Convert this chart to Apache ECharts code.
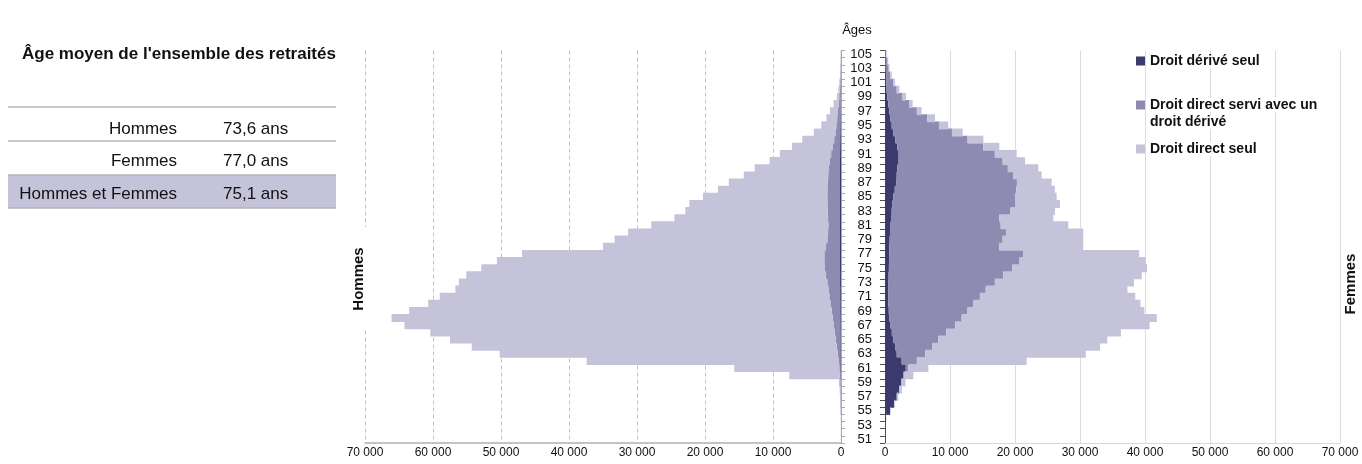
<!DOCTYPE html>
<html><head><meta charset="utf-8">
<script src="https://cdn.jsdelivr.net/npm/echarts@6/dist/echarts.min.js"></script>
<style>html,body{margin:0;padding:0;background:#fff}#c{width:1362px;height:464px}</style>
</head><body><div id="c"></div>
<script>
// Ages 51 -> 105 (bottom -> top)
const ages = ['51','52','53','54','55','56','57','58','59','60','61','62','63','64','65','66','67','68','69','70','71','72','73','74','75','76','77','78','79','80','81','82','83','84','85','86','87','88','89','90','91','92','93','94','95','96','97','98','99','100','101','102','103','104','105'];

const hommesDeriveSeul = [5,5,5,5,20,30,40,50,60,80,100,100,100,100,100,100,110,110,120,120,130,130,140,140,150,150,150,150,150,150,150,150,150,150,150,150,150,150,150,150,140,130,120,110,100,90,80,70,60,50,40,30,20,10,10];
const hommesDirectAvecDerive = [0,0,0,5,10,20,20,30,40,70,150,270,390,540,680,800,920,1090,1250,1430,1580,1720,1870,2060,2200,2300,2300,2050,1850,1750,1710,1750,1810,1850,1860,1850,1810,1730,1610,1470,1310,1120,880,710,580,470,370,280,200,130,80,50,30,20,10];
const hommesDirectSeul = [5,5,5,10,50,70,90,120,200,7450,15450,37030,49710,53660,56720,59500,63170,64900,62130,59150,57290,54850,54190,52900,50550,48150,44450,32800,31300,29400,26040,22600,20940,20300,18290,16100,14540,12420,10940,8880,7550,5950,4700,3180,2220,1590,1170,750,340,220,130,70,50,30,20];

const femmesDeriveSeul = [60,80,100,150,770,1380,1790,2150,2460,2820,3200,2560,1800,1550,1300,1050,850,680,580,520,500,510,530,560,600,620,650,680,720,770,850,920,1030,1150,1300,1500,1700,1800,1900,2000,2100,1900,1600,1300,1030,850,670,500,360,250,180,130,90,60,40];
const femmesDirectAvecDerive = [0,0,0,10,30,50,60,80,100,180,400,2340,4400,5750,6900,8350,9950,11120,12120,13080,14100,14990,16370,17640,19000,20080,20650,16920,17380,17930,16950,16680,18270,18850,18700,18700,18600,17900,17000,16100,14800,13200,11100,9000,7270,5650,4230,3200,2340,1550,1070,670,470,320,140];
const femmesDirectSeul = [10,10,10,20,70,120,200,370,590,1360,3070,16900,24700,25800,26000,26900,29900,30000,27200,25700,23900,21800,21400,21300,20700,19400,17800,12900,12400,11800,10400,8300,6850,6920,6410,5950,5340,4400,4690,3440,3360,2490,2430,1650,1450,1190,740,560,530,410,290,230,140,130,80];

const seriesNames = ['Droit dérivé seul', 'Droit direct servi avec un droit dérivé', 'Droit direct seul'];
const legendLines = [['Droit dérivé seul'], ['Droit direct servi avec un', 'droit dérivé'], ['Droit direct seul']];
const tableTitle = "Âge moyen de l'ensemble des retraités";
const tableLabels = ['Hommes', 'Femmes', 'Hommes et Femmes'];
const tableValues = ['73,6 ans', '77,0 ans', '75,1 ans'];
const axisMax = 70000;
const axisStep = 10000;

const colors = ['#3a3a6c', '#8d8bb2', '#c5c3da'];
const FONT = "'Liberation Sans', Arial, sans-serif";

function fmt(v) { return String(v).replace(/\B(?=(\d{3})+(?!\d))/g, ' '); }

const chart = echarts.init(document.getElementById('c'), null, {renderer: 'canvas'});

const hData = [hommesDeriveSeul, hommesDirectAvecDerive, hommesDirectSeul];
const fData = [femmesDeriveSeul, femmesDirectAvecDerive, femmesDirectSeul];

const series = [];
function barSeries(i, stack, axis, data) {
  return {
    name: seriesNames[i], type: 'bar', stack: stack, xAxisIndex: axis, yAxisIndex: axis,
    data: data, barWidth: '112%',
    itemStyle: {color: colors[i]}, silent: true
  };
}
for (let i = 0; i < 3; i++) series.push(barSeries(i, 'h', 0, hData[i]));
for (let i = 0; i < 3; i++) series.push(barSeries(i, 'f', 1, fData[i]));

const graphics = [];
// table
graphics.push({type: 'rect', shape: {x: 8, y: 175, width: 328, height: 33}, style: {fill: '#c5c3da'}, z: 0});
[107, 141, 175, 208].forEach(y => graphics.push({type: 'line', shape: {x1: 8, y1: y, x2: 336, y2: y}, style: {stroke: '#b5b5b5', lineWidth: 1.5}}));
graphics.push({type: 'text', x: 22, y: 54, style: {text: tableTitle, font: 'bold 17px ' + FONT, fill: '#111', verticalAlign: 'middle'}});
const rowY = [129, 161.5, 194];
for (let i = 0; i < 3; i++) {
  graphics.push({type: 'text', x: 177, y: rowY[i], style: {text: tableLabels[i], font: '17px ' + FONT, fill: '#111', align: 'right', verticalAlign: 'middle'}});
  graphics.push({type: 'text', x: 223, y: rowY[i], style: {text: tableValues[i], font: '17px ' + FONT, fill: '#111', align: 'left', verticalAlign: 'middle'}});
}
// titles
graphics.push({type: 'text', x: 857, y: 30, style: {text: 'Âges', font: '13px ' + FONT, fill: '#111', align: 'center', verticalAlign: 'middle'}});
graphics.push({type: 'text', x: 359, y: 279, rotation: Math.PI / 2, style: {text: 'Hommes', font: 'bold 15px ' + FONT, fill: '#111', align: 'center', verticalAlign: 'middle', backgroundColor: '#fff', padding: [1, 20]}, z: 10});
graphics.push({type: 'text', x: 1351, y: 284, rotation: Math.PI / 2, style: {text: 'Femmes', font: 'bold 15px ' + FONT, fill: '#111', align: 'center', verticalAlign: 'middle', backgroundColor: '#fff', padding: [1, 4]}, z: 10});
// legend
const legY = [61, 105, 149];
for (let i = 0; i < 3; i++) {
  graphics.push({type: 'rect', shape: {x: 1136, y: legY[i] - 4.5, width: 9, height: 9}, style: {fill: colors[i]}, z: 10});
  legendLines[i].forEach((t, j) => graphics.push({type: 'text', x: 1150, y: legY[i] + j * 17, style: {text: t, font: 'bold 14px ' + FONT, fill: '#111', verticalAlign: 'middle', backgroundColor: '#fff'}, z: 10}));
}

const gridTop = 50.5, gridBottom = 21;
chart.setOption({
  animation: false,
  textStyle: {fontFamily: FONT},
  grid: [
    {left: 365, right: 1362 - 841, top: gridTop, bottom: gridBottom},
    {left: 885, right: 1362 - 1340, top: gridTop, bottom: gridBottom}
  ],
  xAxis: [
    {gridIndex: 0, type: 'value', inverse: true, min: 0, max: axisMax, interval: axisStep,
     axisLine: {show: true, lineStyle: {color: '#b0b0b0', width: 1.5}}, axisTick: {show: false},
     splitLine: {show: true, lineStyle: {color: '#c2c2c2', type: [4, 3], width: 1}},
     axisLabel: {formatter: fmt, fontSize: 12, color: '#111', margin: 4}},
    {gridIndex: 1, type: 'value', min: 0, max: axisMax, interval: axisStep,
     axisLine: {show: true, lineStyle: {color: '#d8d8d8', width: 1}}, axisTick: {show: false},
     splitLine: {show: true, lineStyle: {color: '#dcdcdc', width: 1}},
     axisLabel: {formatter: fmt, fontSize: 12, color: '#111', margin: 4}}
  ],
  yAxis: [
    {gridIndex: 0, type: 'category', data: ages, position: 'right',
     axisLine: {show: true, lineStyle: {color: '#a8a8a8', width: 1}},
     axisTick: {show: true, interval: 0, length: 4, lineStyle: {color: '#a8a8a8'}},
     axisLabel: {show: false}, splitLine: {show: false}},
    {gridIndex: 1, type: 'category', data: ages, position: 'left',
     axisLine: {show: true, lineStyle: {color: '#505050', width: 1}},
     axisTick: {show: true, interval: 0, length: 5, lineStyle: {color: '#505050'}},
     axisLabel: {fontSize: 13, color: '#111', margin: 13, interval: (idx, val) => Number(val) % 2 === 1},
     splitLine: {show: false}}
  ],
  series: series,
  graphic: graphics
});
</script></body></html>
